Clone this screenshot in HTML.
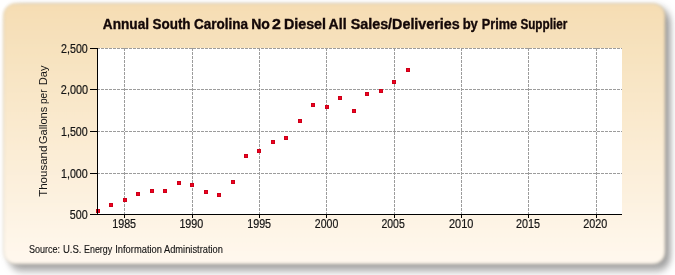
<!DOCTYPE html>
<html><head><meta charset="utf-8"><style>
html,body{margin:0;padding:0;width:675px;height:275px;overflow:hidden;background:#fff;}
svg{display:block;}
text{font-family:"Liberation Sans",sans-serif;}
svg{will-change:transform;}
</style></head><body>
<svg width="675" height="275" viewBox="0 0 675 275">
<defs>
<linearGradient id="bg" x1="0" y1="0" x2="0" y2="1">
<stop offset="0" stop-color="#f5ddb3"/>
<stop offset="1" stop-color="#fff8ee"/>
</linearGradient>
<filter id="sh" x="-10%" y="-10%" width="120%" height="120%"><feGaussianBlur stdDeviation="3.3 4.5"/></filter>
<filter id="soft" x="-5%" y="-5%" width="110%" height="110%"><feGaussianBlur stdDeviation="1.4"/></filter>
</defs>
<rect x="8.5" y="8" width="662" height="262.5" rx="14" ry="14" fill="#9e9e9e" filter="url(#sh)"/>
<rect x="3.5" y="3.5" width="661.5" height="260.5" rx="12" ry="12" fill="url(#bg)" stroke="#a09070" stroke-opacity="0.3" stroke-width="1" filter="url(#soft)"/>
<text x="102.81" y="29" textLength="46.22" lengthAdjust="spacingAndGlyphs" font-size="14" font-weight="bold" fill="#140808" stroke="#140808" stroke-width="0.35">Annual</text>
<text x="152.52" y="29" textLength="38.05" lengthAdjust="spacingAndGlyphs" font-size="14" font-weight="bold" fill="#140808" stroke="#140808" stroke-width="0.35">South</text>
<text x="193.92" y="29" textLength="54.00" lengthAdjust="spacingAndGlyphs" font-size="14" font-weight="bold" fill="#140808" stroke="#140808" stroke-width="0.35">Carolina</text>
<text x="251.20" y="29" textLength="18.67" lengthAdjust="spacingAndGlyphs" font-size="14" font-weight="bold" fill="#140808" stroke="#140808" stroke-width="0.35">No</text>
<text x="272.13" y="29" textLength="8.89" lengthAdjust="spacingAndGlyphs" font-size="14" font-weight="bold" fill="#140808" stroke="#140808" stroke-width="0.35">2</text>
<text x="283.98" y="29" textLength="42.04" lengthAdjust="spacingAndGlyphs" font-size="14" font-weight="bold" fill="#140808" stroke="#140808" stroke-width="0.35">Diesel</text>
<text x="328.60" y="29" textLength="18.00" lengthAdjust="spacingAndGlyphs" font-size="14" font-weight="bold" fill="#140808" stroke="#140808" stroke-width="0.35">All</text>
<text x="350.69" y="29" textLength="109.07" lengthAdjust="spacingAndGlyphs" font-size="14" font-weight="bold" fill="#140808" stroke="#140808" stroke-width="0.35">Sales/Deliveries</text>
<text x="462.67" y="29" textLength="15.22" lengthAdjust="spacingAndGlyphs" font-size="14" font-weight="bold" fill="#140808" stroke="#140808" stroke-width="0.35">by</text>
<text x="481.69" y="29" textLength="35.39" lengthAdjust="spacingAndGlyphs" font-size="14" font-weight="bold" fill="#140808" stroke="#140808" stroke-width="0.35">Prime</text>
<text x="520.38" y="29" textLength="46.84" lengthAdjust="spacingAndGlyphs" font-size="14" font-weight="bold" fill="#140808" stroke="#140808" stroke-width="0.35">Supplier</text>
<text x="28.95" y="253" textLength="31.13" lengthAdjust="spacingAndGlyphs" font-size="10" fill="#151515" stroke="#151515" stroke-width="0.12">Source:</text>
<text x="62.99" y="253" textLength="18.52" lengthAdjust="spacingAndGlyphs" font-size="10" fill="#151515" stroke="#151515" stroke-width="0.12">U.S.</text>
<text x="84.03" y="253" textLength="28.13" lengthAdjust="spacingAndGlyphs" font-size="10" fill="#151515" stroke="#151515" stroke-width="0.12">Energy</text>
<text x="115.16" y="253" textLength="46.87" lengthAdjust="spacingAndGlyphs" font-size="10" fill="#151515" stroke="#151515" stroke-width="0.12">Information</text>
<text x="164.00" y="253" textLength="58.87" lengthAdjust="spacingAndGlyphs" font-size="10" fill="#151515" stroke="#151515" stroke-width="0.12">Administration</text>
<text transform="translate(46.8,196.86) rotate(-90)" textLength="51.28" lengthAdjust="spacingAndGlyphs" font-size="11" fill="#151515">Thousand</text>
<text transform="translate(46.8,144.00) rotate(-90)" textLength="37.19" lengthAdjust="spacingAndGlyphs" font-size="11" fill="#151515">Gallons</text>
<text transform="translate(46.8,103.98) rotate(-90)" textLength="14.53" lengthAdjust="spacingAndGlyphs" font-size="11" fill="#151515">per</text>
<text transform="translate(46.8,85.21) rotate(-90)" textLength="19.77" lengthAdjust="spacingAndGlyphs" font-size="11" fill="#151515">Day</text>
<rect x="97" y="48" width="525" height="166" fill="#ffffff"/>
<line x1="124.5" y1="48" x2="124.5" y2="214" stroke="#9c9c9c" stroke-width="1" stroke-dasharray="3,1"/>
<line x1="192.5" y1="48" x2="192.5" y2="214" stroke="#9c9c9c" stroke-width="1" stroke-dasharray="3,1"/>
<line x1="259.5" y1="48" x2="259.5" y2="214" stroke="#9c9c9c" stroke-width="1" stroke-dasharray="3,1"/>
<line x1="326.5" y1="48" x2="326.5" y2="214" stroke="#9c9c9c" stroke-width="1" stroke-dasharray="3,1"/>
<line x1="394.5" y1="48" x2="394.5" y2="214" stroke="#9c9c9c" stroke-width="1" stroke-dasharray="3,1"/>
<line x1="461.5" y1="48" x2="461.5" y2="214" stroke="#9c9c9c" stroke-width="1" stroke-dasharray="3,1"/>
<line x1="528.5" y1="48" x2="528.5" y2="214" stroke="#9c9c9c" stroke-width="1" stroke-dasharray="3,1"/>
<line x1="596.5" y1="48" x2="596.5" y2="214" stroke="#9c9c9c" stroke-width="1" stroke-dasharray="3,1"/>
<line x1="97" y1="48.5" x2="622" y2="48.5" stroke="#9c9c9c" stroke-width="1" stroke-dasharray="3,1"/>
<line x1="97" y1="89.5" x2="622" y2="89.5" stroke="#9c9c9c" stroke-width="1" stroke-dasharray="3,1"/>
<line x1="97" y1="131.5" x2="622" y2="131.5" stroke="#9c9c9c" stroke-width="1" stroke-dasharray="3,1"/>
<line x1="97" y1="173.5" x2="622" y2="173.5" stroke="#9c9c9c" stroke-width="1" stroke-dasharray="3,1"/>
<rect x="96" y="209" width="4" height="4" fill="#cc0018"/><rect x="97" y="210" width="2" height="2" fill="#f00020"/>
<rect x="109" y="203" width="4" height="4" fill="#cc0018"/><rect x="110" y="204" width="2" height="2" fill="#f00020"/>
<rect x="123" y="198" width="4" height="4" fill="#cc0018"/><rect x="124" y="199" width="2" height="2" fill="#f00020"/>
<rect x="136" y="192" width="4" height="4" fill="#cc0018"/><rect x="137" y="193" width="2" height="2" fill="#f00020"/>
<rect x="150" y="189" width="4" height="4" fill="#cc0018"/><rect x="151" y="190" width="2" height="2" fill="#f00020"/>
<rect x="163" y="189" width="4" height="4" fill="#cc0018"/><rect x="164" y="190" width="2" height="2" fill="#f00020"/>
<rect x="177" y="181" width="4" height="4" fill="#cc0018"/><rect x="178" y="182" width="2" height="2" fill="#f00020"/>
<rect x="190" y="183" width="4" height="4" fill="#cc0018"/><rect x="191" y="184" width="2" height="2" fill="#f00020"/>
<rect x="204" y="190" width="4" height="4" fill="#cc0018"/><rect x="205" y="191" width="2" height="2" fill="#f00020"/>
<rect x="217" y="193" width="4" height="4" fill="#cc0018"/><rect x="218" y="194" width="2" height="2" fill="#f00020"/>
<rect x="231" y="180" width="4" height="4" fill="#cc0018"/><rect x="232" y="181" width="2" height="2" fill="#f00020"/>
<rect x="244" y="154" width="4" height="4" fill="#cc0018"/><rect x="245" y="155" width="2" height="2" fill="#f00020"/>
<rect x="257" y="149" width="4" height="4" fill="#cc0018"/><rect x="258" y="150" width="2" height="2" fill="#f00020"/>
<rect x="271" y="140" width="4" height="4" fill="#cc0018"/><rect x="272" y="141" width="2" height="2" fill="#f00020"/>
<rect x="284" y="136" width="4" height="4" fill="#cc0018"/><rect x="285" y="137" width="2" height="2" fill="#f00020"/>
<rect x="298" y="119" width="4" height="4" fill="#cc0018"/><rect x="299" y="120" width="2" height="2" fill="#f00020"/>
<rect x="311" y="103" width="4" height="4" fill="#cc0018"/><rect x="312" y="104" width="2" height="2" fill="#f00020"/>
<rect x="325" y="105" width="4" height="4" fill="#cc0018"/><rect x="326" y="106" width="2" height="2" fill="#f00020"/>
<rect x="338" y="96" width="4" height="4" fill="#cc0018"/><rect x="339" y="97" width="2" height="2" fill="#f00020"/>
<rect x="352" y="109" width="4" height="4" fill="#cc0018"/><rect x="353" y="110" width="2" height="2" fill="#f00020"/>
<rect x="365" y="92" width="4" height="4" fill="#cc0018"/><rect x="366" y="93" width="2" height="2" fill="#f00020"/>
<rect x="379" y="89" width="4" height="4" fill="#cc0018"/><rect x="380" y="90" width="2" height="2" fill="#f00020"/>
<rect x="392" y="80" width="4" height="4" fill="#cc0018"/><rect x="393" y="81" width="2" height="2" fill="#f00020"/>
<rect x="406" y="68" width="4" height="4" fill="#cc0018"/><rect x="407" y="69" width="2" height="2" fill="#f00020"/>
<rect x="97" y="48" width="1" height="167" fill="#000"/>
<rect x="97" y="214" width="525" height="1" fill="#000"/>
<rect x="90" y="48" width="7" height="1" fill="#000"/>
<text x="61.06" y="52.5" textLength="26.72" lengthAdjust="spacingAndGlyphs" font-size="12" fill="#151515" stroke="#151515" stroke-width="0.2">2,500</text>
<rect x="90" y="89" width="7" height="1" fill="#000"/>
<text x="60.85" y="93.5" textLength="27.24" lengthAdjust="spacingAndGlyphs" font-size="12" fill="#151515" stroke="#151515" stroke-width="0.2">2,000</text>
<rect x="90" y="131" width="7" height="1" fill="#000"/>
<text x="61.01" y="135.5" textLength="26.76" lengthAdjust="spacingAndGlyphs" font-size="12" fill="#151515" stroke="#151515" stroke-width="0.2">1,500</text>
<rect x="90" y="173" width="7" height="1" fill="#000"/>
<text x="61.01" y="177.5" textLength="26.76" lengthAdjust="spacingAndGlyphs" font-size="12" fill="#151515" stroke="#151515" stroke-width="0.2">1,000</text>
<rect x="90" y="214" width="7" height="1" fill="#000"/>
<text x="69.85" y="218.5" textLength="17.92" lengthAdjust="spacingAndGlyphs" font-size="12" fill="#151515" stroke="#151515" stroke-width="0.2">500</text>
<rect x="124" y="214" width="1" height="4" fill="#000"/>
<text x="112.20" y="228" textLength="23.90" lengthAdjust="spacingAndGlyphs" font-size="12" fill="#151515" stroke="#151515" stroke-width="0.2">1985</text>
<rect x="192" y="214" width="1" height="4" fill="#000"/>
<text x="179.40" y="228" textLength="23.90" lengthAdjust="spacingAndGlyphs" font-size="12" fill="#151515" stroke="#151515" stroke-width="0.2">1990</text>
<rect x="259" y="214" width="1" height="4" fill="#000"/>
<text x="247.20" y="228" textLength="23.90" lengthAdjust="spacingAndGlyphs" font-size="12" fill="#151515" stroke="#151515" stroke-width="0.2">1995</text>
<rect x="326" y="214" width="1" height="4" fill="#000"/>
<text x="314.86" y="228" textLength="23.44" lengthAdjust="spacingAndGlyphs" font-size="12" fill="#151515" stroke="#151515" stroke-width="0.2">2000</text>
<rect x="394" y="214" width="1" height="4" fill="#000"/>
<text x="381.46" y="228" textLength="23.33" lengthAdjust="spacingAndGlyphs" font-size="12" fill="#151515" stroke="#151515" stroke-width="0.2">2005</text>
<rect x="461" y="214" width="1" height="4" fill="#000"/>
<text x="449.04" y="228" textLength="24.37" lengthAdjust="spacingAndGlyphs" font-size="12" fill="#151515" stroke="#151515" stroke-width="0.2">2010</text>
<rect x="528" y="214" width="1" height="4" fill="#000"/>
<text x="516.05" y="228" textLength="24.06" lengthAdjust="spacingAndGlyphs" font-size="12" fill="#151515" stroke="#151515" stroke-width="0.2">2015</text>
<rect x="596" y="214" width="1" height="4" fill="#000"/>
<text x="583.25" y="228" textLength="24.06" lengthAdjust="spacingAndGlyphs" font-size="12" fill="#151515" stroke="#151515" stroke-width="0.2">2020</text>
</svg>
</body></html>
